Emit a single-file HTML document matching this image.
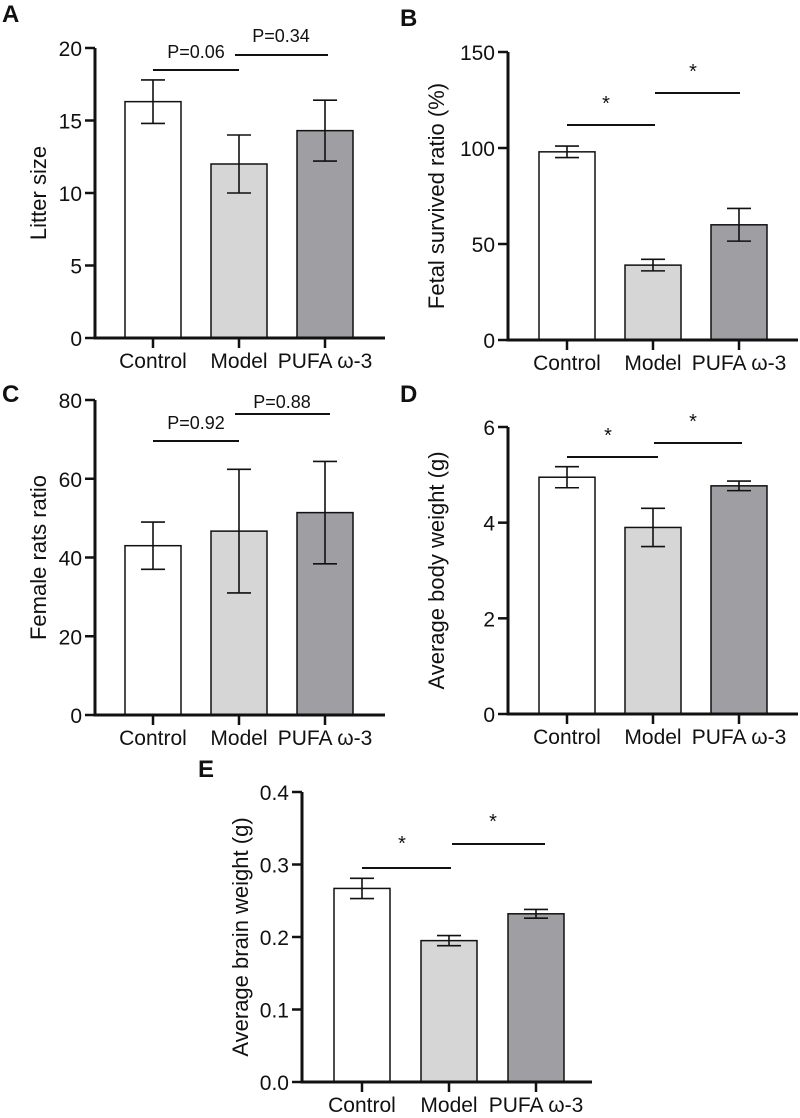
<!DOCTYPE html>
<html><head><meta charset="utf-8"><style>
body{margin:0;background:#fff}
svg text{font-family:"Liberation Sans",sans-serif;fill:#111}
</style></head><body>
<svg id="fig" width="800" height="1113" xmlns="http://www.w3.org/2000/svg"></svg>
<script>
const categories=["Control","Model","PUFA ω-3"];
const fills=["#ffffff","#d6d6d6","#9e9ea3"];
const valsA=[16.3,12.0,14.3], errA=[1.5,2.0,2.1];
const valsB=[98,39,60], errB=[3,3,8.5];
const valsC=[43,46.7,51.4], errC=[6,15.7,13];
const valsD=[4.95,3.9,4.77], errD=[0.22,0.4,0.1];
const valsE=[0.267,0.195,0.232], errE=[0.014,0.007,0.006];
const ticksA=[0,5,10,15,20], ticksB=[0,50,100,150], ticksC=[0,20,40,60,80], ticksD=[0,2,4,6], ticksE=["0.0","0.1","0.2","0.3","0.4"];
const sigA=["P=0.06","P=0.34"], sigB=["*","*"], sigC=["P=0.92","P=0.88"], sigD=["*","*"], sigE=["*","*"];
const svg=document.getElementById('fig');
const NS="http://www.w3.org/2000/svg";
function mk(t,a,p){const e=document.createElementNS(NS,t);for(const k in a)e.setAttribute(k,a[k]);(p||svg).appendChild(e);return e;}
function panel(o){
  const g=mk('g',{});
  
  
  const ymax=parseFloat(o.ticks[o.ticks.length-1]);
  const y=v=>o.y0-(v/ymax)*(o.y0-o.ytop);
  const step=o.step, cx=i=>o.ax+o.first+i*step;
  const lt=mk('text',{x:o.lx,y:o.ly,'font-size':24,'font-weight':'bold'},g);lt.textContent=o.letter;
  
  
  o.vals.forEach((v,i)=>{
    const r=mk('rect',{x:cx(i)-28,y:y(v),width:56,height:o.y0-y(v),fill:fills[i],stroke:'#111','stroke-width':1.5},g);
    
    
    const e=o.err[i];
    const eb=mk('path',{d:`M${cx(i)-12},${y(v+e)}H${cx(i)+12}M${cx(i)},${y(v+e)}V${y(v-e)}M${cx(i)-12},${y(v-e)}H${cx(i)+12}`,stroke:'#111','stroke-width':1.6,fill:'none'},g);
    
    
    mk('line',{x1:cx(i),x2:cx(i),y1:o.y0,y2:o.y0+10,stroke:'#111','stroke-width':2.5},g);
    const t=mk('text',{x:cx(i),y:o.y0+30,'font-size':21,'text-anchor':'middle'},g);t.textContent=categories[i];
    
    
  });
  o.ticks.forEach(tk=>{
    const yy=y(parseFloat(tk));
    mk('line',{x1:o.ax-10,x2:o.ax,y1:yy,y2:yy,stroke:'#111','stroke-width':2.5},g);
    const t=mk('text',{x:o.ax-13,y:yy+8,'font-size':21,'text-anchor':'end'},g);t.textContent=tk;
    
    
  });
  const ax=mk('path',{d:`M${o.ax},${o.ytop}V${o.y0}H${o.ax+290}`,stroke:'#111','stroke-width':3,fill:'none'},g);
  
  
  const yt=mk('text',{transform:`translate(${o.tx},${(o.y0+o.ytop)/2}) rotate(-90)`,'font-size':22,'text-anchor':'middle'},g);yt.textContent=o.title;
  
  
  o.br.forEach((b,k)=>{
    const l=mk('line',{x1:b[0],x2:b[1],y1:b[2],y2:b[2],stroke:'#111','stroke-width':2},g);
    
    
    const star=o.sig[k]==='*';
    const t=mk('text',{x:b[3],y:b[4],'font-size':star?20:18,'text-anchor':'middle'},g);t.textContent=o.sig[k];
    
    
  });
}
panel({letter:'A',lx:2,ly:22,ax:95,y0:338,ytop:48,first:58,step:86,vals:valsA,err:errA,ticks:ticksA,title:'Litter size',tx:46,sig:sigA,br:[[153,239,70,196,58],[235,328,55,281,42]]});
panel({letter:'B',lx:400,ly:26,ax:508,y0:340,ytop:52,first:59,step:86,vals:valsB,err:errB,ticks:ticksB,title:'Fetal survived ratio (%)',tx:444,sig:sigB,br:[[567,655,125,606,110],[655,740,93,693,78]]});
panel({letter:'C',lx:2,ly:402,ax:95,y0:715,ytop:400,first:58,step:86,vals:valsC,err:errC,ticks:ticksC,title:'Female rats ratio',tx:46,sig:sigC,br:[[153,239,441,196,429],[235,330,414,282,408]]});
panel({letter:'D',lx:400,ly:402,ax:508,y0:714,ytop:427,first:59,step:86,vals:valsD,err:errD,ticks:ticksD,title:'Average body weight (g)',tx:444,sig:sigD,br:[[567,658,457,608,442],[654,742,443,693,428]]});
panel({letter:'E',lx:198,ly:777,ax:302,y0:1082,ytop:792,first:60,step:87,vals:valsE,err:errE,ticks:ticksE,title:'Average brain weight (g)',tx:248,sig:sigE,br:[[362,451,868,402,850],[452,545,844,493,828]]});
</script>
</body></html>
